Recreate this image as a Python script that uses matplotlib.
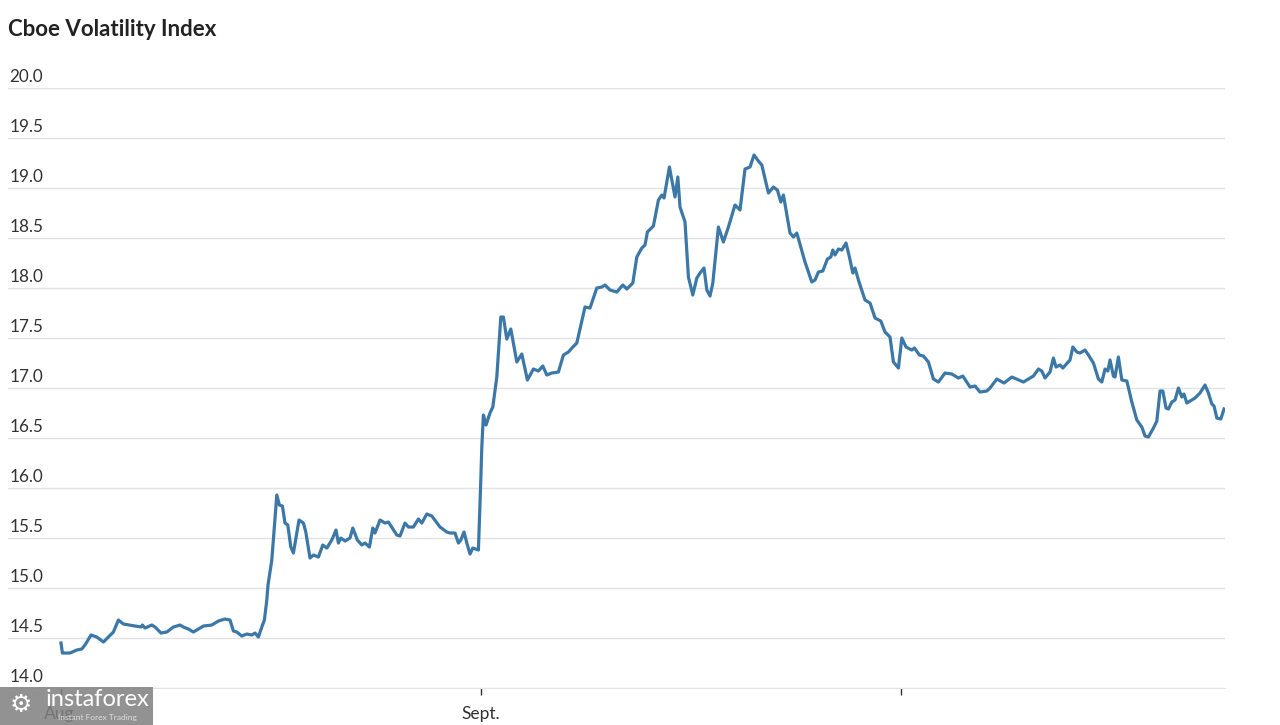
import matplotlib
matplotlib.use("Agg")
import matplotlib.pyplot as plt
from matplotlib.patches import Rectangle

# session index (tick spacing = 21) and VIX level
t = [0.0, 0.07, 0.45, 0.79, 1.04, 1.2, 1.5, 1.79, 2.12, 2.37, 2.62, 2.87, 3.12, 3.7, 4.0,
     4.07, 4.2, 4.54, 4.7, 5.0, 5.29, 5.62, 5.95, 6.12, 6.37, 6.62, 6.87, 7.12, 7.54, 7.87,
     8.2, 8.45, 8.62, 8.79, 9.04, 9.29, 9.54, 9.7, 9.87, 10.04, 10.17, 10.29, 10.35, 10.54,
     10.79, 10.92, 11.07, 11.2, 11.34, 11.49, 11.62, 11.9, 12.12, 12.24, 12.45, 12.62, 12.87,
     13.09, 13.29, 13.54, 13.75, 13.87, 13.99, 14.2, 14.45, 14.59, 14.82, 15.04, 15.2, 15.42,
     15.59, 15.7, 15.95, 16.2, 16.37, 16.79, 16.95, 17.2, 17.37, 17.62, 17.87, 18.04, 18.29,
     18.54, 18.95, 19.29, 19.45, 19.7, 19.87, 19.99, 20.15, 20.29, 20.45, 20.59, 20.87, 20.99,
     21.04, 21.12, 21.25, 21.45, 21.59, 21.79, 21.99, 22.12, 22.29, 22.49, 22.79, 23.04, 23.32,
     23.62, 23.87, 24.09, 24.29, 24.54, 24.87, 25.12, 25.37, 25.59, 25.79, 26.2, 26.45, 26.79,
     27.04, 27.2, 27.45, 27.79, 28.09, 28.29, 28.59, 28.79, 29.04, 29.2, 29.32, 29.62, 29.87,
     30.04, 30.15, 30.42, 30.7, 30.84, 30.95, 31.2, 31.37, 31.59, 31.79, 31.95, 32.15, 32.29,
     32.45, 32.59, 32.87, 33.12, 33.37, 33.7, 33.95, 34.2, 34.45, 34.65, 34.87, 35.04, 35.37,
     35.62, 35.82, 35.99, 36.12, 36.45, 36.62, 36.79, 37.2, 37.54, 37.7, 37.87, 38.09, 38.32,
     38.49, 38.59, 38.7, 38.87, 39.04, 39.25, 39.42, 39.59, 39.7, 39.87, 40.2, 40.45, 40.7,
     40.99, 41.2, 41.45, 41.62, 41.87, 42.04, 42.25, 42.54, 42.67, 42.92, 43.12, 43.37, 43.62,
     43.87, 44.2, 44.54, 44.87, 45.09, 45.45, 45.7, 45.95, 46.29, 46.45, 46.79, 47.15, 47.54,
     48.12, 48.62, 48.87, 49.04, 49.2, 49.45, 49.62, 49.75, 49.95, 50.09, 50.45, 50.59, 50.79,
     50.95, 51.2, 51.37, 51.62, 51.87, 52.04, 52.2, 52.34, 52.45, 52.62, 52.7, 52.87, 53.04,
     53.29, 53.54, 53.79, 54.04, 54.2, 54.37, 54.62, 54.79, 54.95, 55.09, 55.25, 55.37, 55.54,
     55.7, 55.87, 56.04, 56.15, 56.29, 56.7, 56.95, 57.2, 57.37, 57.54, 57.65, 57.79, 57.99,
     58.15]
vix = [14.45, 14.35, 14.35, 14.38, 14.39, 14.43, 14.53, 14.51, 14.46, 14.51, 14.56, 14.68,
       14.64, 14.62, 14.61, 14.63, 14.60, 14.63, 14.61, 14.55, 14.56, 14.61, 14.63, 14.61,
       14.59, 14.56, 14.59, 14.62, 14.63, 14.67, 14.69, 14.68, 14.57, 14.56, 14.52, 14.54,
       14.53, 14.55, 14.51, 14.61, 14.68, 14.88, 15.03, 15.28, 15.93, 15.83, 15.82, 15.65,
       15.63, 15.41, 15.35, 15.68, 15.65, 15.56, 15.30, 15.33, 15.31, 15.43, 15.40, 15.48,
       15.58, 15.45, 15.50, 15.47, 15.50, 15.60, 15.48, 15.43, 15.45, 15.41, 15.60, 15.55,
       15.68, 15.65, 15.66, 15.53, 15.52, 15.65, 15.61, 15.61, 15.69, 15.65, 15.74, 15.72,
       15.61, 15.56, 15.55, 15.55, 15.45, 15.48, 15.56, 15.45, 15.34, 15.40, 15.38, 16.08,
       16.41, 16.73, 16.63, 16.75, 16.81, 17.11, 17.71, 17.71, 17.49, 17.59, 17.26, 17.34,
       17.08, 17.19, 17.17, 17.22, 17.13, 17.15, 17.16, 17.33, 17.36, 17.41, 17.45, 17.81,
       17.80, 18.00, 18.01, 18.03, 17.98, 17.96, 18.03, 17.99, 18.05, 18.31, 18.40, 18.43,
       18.56, 18.62, 18.88, 18.93, 18.90, 19.21, 18.91, 19.11, 18.81, 18.66, 18.11, 17.93,
       18.10, 18.15, 18.20, 17.98, 17.92, 18.05, 18.61, 18.46, 18.61, 18.83, 18.78, 19.19,
       19.21, 19.33, 19.27, 19.23, 18.95, 19.01, 18.98, 18.86, 18.93, 18.55, 18.51, 18.55,
       18.26, 18.06, 18.08, 18.16, 18.17, 18.29, 18.31, 18.38, 18.33, 18.39, 18.38, 18.45,
       18.31, 18.15, 18.20, 18.08, 17.88, 17.85, 17.70, 17.67, 17.56, 17.51, 17.26, 17.20,
       17.50, 17.41, 17.38, 17.40, 17.33, 17.32, 17.26, 17.09, 17.06, 17.15, 17.14, 17.10,
       17.12, 17.01, 17.02, 16.96, 16.97, 17.00, 17.09, 17.05, 17.11, 17.06, 17.12, 17.19,
       17.17, 17.10, 17.16, 17.30, 17.21, 17.23, 17.20, 17.28, 17.41, 17.36, 17.35, 17.38,
       17.33, 17.25, 17.09, 17.06, 17.19, 17.17, 17.28, 17.12, 17.11, 17.31, 17.08, 17.07,
       16.86, 16.68, 16.61, 16.52, 16.51, 16.60, 16.67, 16.97, 16.97, 16.80, 16.79, 16.86,
       16.88, 17.00, 16.91, 16.94, 16.85, 16.90, 16.95, 17.03, 16.95, 16.84, 16.82, 16.70,
       16.69, 16.79]

y_ticks = [14.0, 14.5, 15.0, 15.5, 16.0, 16.5, 17.0, 17.5, 18.0, 18.5, 19.0, 19.5, 20.0]
x_ticks = [0, 21, 42]
x_labels = ["Aug.", "Sept.", ""]

plt.rcParams["font.family"] = ["Lato", "DejaVu Sans"]

fig = plt.figure(figsize=(12.8, 7.25), dpi=100)
ax = fig.add_axes([0.00625, 0.051, 0.9508, 0.8276])

ax.plot(t, vix, color="#3b78a7", lw=2.3, solid_joinstyle="round")

ax.set_ylim(14.0, 20.0)
ax.set_xlim(-2.65, 58.2)

ax.set_yticks(y_ticks)
ax.yaxis.grid(True, color="#e3e3e3", lw=1.0)
ax.tick_params(axis="y", length=0, labelleft=False)
for v in y_ticks:
    ax.annotate(f"{v:.1f}", xy=(0, v), xycoords=("axes fraction", "data"),
                xytext=(1, 2.5), textcoords="offset points",
                ha="left", va="bottom", fontsize=12.3, color="#333333")

ax.set_xticks(x_ticks)
ax.set_xticklabels(x_labels, fontsize=12.5, color="#333333")
ax.tick_params(axis="x", length=5, width=1, color="#333333", pad=8)

for side in ["top", "right", "left"]:
    ax.spines[side].set_visible(False)
ax.spines["bottom"].set_color("#e3e3e3")
ax.set_axisbelow(True)

fig.text(0.00625, 0.96, "Cboe Volatility Index", fontsize=16, fontweight="bold",
         color="#222222", ha="left", va="center")

# watermark box in the lower-left corner
fig.patches.append(Rectangle((0, 0), 153 / 1280, 38 / 725, transform=fig.transFigure,
                             facecolor="#7f7f7f", alpha=0.85, edgecolor="none", zorder=5))
fig.text(0.036, 0.035, "instaforex", fontsize=17, color="white", ha="left",
         va="center", zorder=6)
fig.text(0.045, 0.01, "Instant Forex Trading", fontsize=6, color="#dddddd", ha="left",
         va="center", zorder=6)
fig.text(0.016, 0.028, "\u2699", fontsize=18, color="white", ha="center",
         va="center", zorder=6, family="DejaVu Sans")

fig.savefig("out.png", dpi=100, facecolor="white")
